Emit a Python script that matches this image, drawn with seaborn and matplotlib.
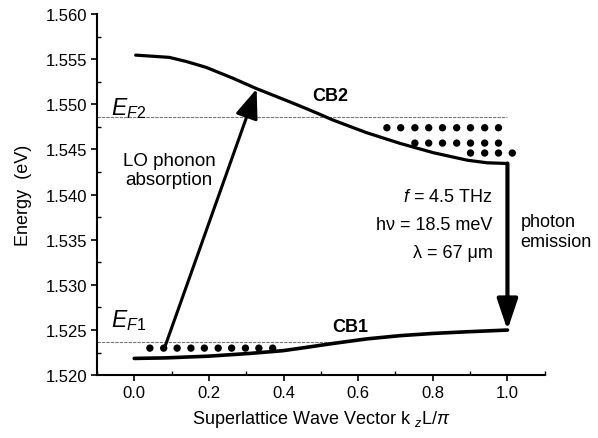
import matplotlib
matplotlib.use("Agg")
import matplotlib.pyplot as plt
import seaborn as sns
import pandas as pd
from matplotlib.patches import FancyArrowPatch
from matplotlib.ticker import MultipleLocator

# ---- data ----
cb2_k = [0.004, 0.094, 0.139, 0.193, 0.264, 0.327, 0.399, 0.444, 0.497, 0.532,
         0.622, 0.712, 0.802, 0.892, 0.945, 1.0]
cb2_e = [1.55544, 1.55519, 1.55474, 1.55408, 1.55289, 1.55174, 1.55056, 1.54981,
         1.54889, 1.54826, 1.54686, 1.54567, 1.54463, 1.54381, 1.54352, 1.54344]
cb1_k = [0.0, 0.085, 0.199, 0.309, 0.399, 0.444, 0.533, 0.623, 0.712, 0.802, 0.892, 1.0]
cb1_e = [1.52186, 1.52192, 1.52211, 1.52241, 1.52272, 1.52298, 1.52352, 1.52402,
         1.52438, 1.52463, 1.52481, 1.52500]

ef2_level = 1.5486
ef2_span = [-0.1, 1.0]
ef1_level = 1.5237
ef1_span = [-0.1, 0.53]

dots2_row1_k = [0.677, 0.714, 0.752, 0.789, 0.826, 0.864, 0.901, 0.939, 0.976]
dots2_row2_k = [0.752, 0.789, 0.826, 0.864, 0.901, 0.939, 0.976]
dots2_row3_k = [0.901, 0.939, 0.976, 1.013]
dots2_rows_e = [1.5474, 1.5457, 1.5446]
dots1_k = [0.042, 0.079, 0.115, 0.152, 0.188, 0.225, 0.261, 0.298, 0.334, 0.371]
dots1_e = 1.5230

absorb_start = (0.081, 1.5230)
absorb_end = (0.328, 1.5517)
emit_start = (1.0, 1.54344)
emit_end = (1.0, 1.5250)

xlim = (-0.1, 1.1)
ylim = (1.520, 1.560)
xticks = [0.0, 0.2, 0.4, 0.6, 0.8, 1.0]
yticks = [1.520, 1.525, 1.530, 1.535, 1.540, 1.545, 1.550, 1.555, 1.560]

# ---- style ----
sns.set_theme(style="ticks")
plt.rcParams["font.family"] = ["Liberation Sans", "DejaVu Sans"]
plt.rcParams["mathtext.fontset"] = "custom"
plt.rcParams["mathtext.rm"] = "Liberation Sans"
plt.rcParams["mathtext.it"] = "Liberation Sans:italic"
plt.rcParams["mathtext.bf"] = "Liberation Sans:bold"
plt.rcParams["text.color"] = "black"
plt.rcParams["axes.labelcolor"] = "black"
plt.rcParams["xtick.color"] = "black"
plt.rcParams["ytick.color"] = "black"

fig = plt.figure(figsize=(5.98, 4.39), dpi=100)
ax = fig.add_axes([0.162, 0.143, 0.749, 0.823])

cb2 = pd.DataFrame({"k": cb2_k, "E": cb2_e})
cb1 = pd.DataFrame({"k": cb1_k, "E": cb1_e})
sns.lineplot(data=cb2, x="k", y="E", ax=ax, color="black", lw=2.3)
sns.lineplot(data=cb1, x="k", y="E", ax=ax, color="black", lw=2.6)

ax.plot(ef2_span, [ef2_level] * 2, color="#777777", lw=0.8, ls=(0, (3, 1)), zorder=1)
ax.plot(ef1_span, [ef1_level] * 2, color="#777777", lw=0.8, ls=(0, (3, 1)), zorder=1)

dk = dots2_row1_k + dots2_row2_k + dots2_row3_k + dots1_k
de = ([dots2_rows_e[0]] * len(dots2_row1_k) + [dots2_rows_e[1]] * len(dots2_row2_k)
      + [dots2_rows_e[2]] * len(dots2_row3_k) + [dots1_e] * len(dots1_k))
sns.scatterplot(x=dk, y=de, ax=ax, color="black", s=28, edgecolor="none", zorder=3)

ax.add_patch(FancyArrowPatch(absorb_start, absorb_end,
                             arrowstyle="-|>,head_length=0.9,head_width=0.35",
                             mutation_scale=20, color="black", lw=2.2,
                             shrinkA=0, shrinkB=0, zorder=4))
ax.add_patch(FancyArrowPatch(emit_start, emit_end,
                             arrowstyle="-|>,head_length=1.25,head_width=0.42",
                             mutation_scale=15, color="black", lw=3.0,
                             shrinkA=0, shrinkB=0, zorder=4))

ax.set_xlim(*xlim)
ax.set_ylim(*ylim)
ax.set_xticks(xticks)
ax.set_yticks(yticks)
ax.set_xticklabels([f"{v:.1f}" for v in xticks])
ax.set_yticklabels([f"{v:.3f}" for v in yticks])
ax.xaxis.set_minor_locator(MultipleLocator(0.1))
ax.yaxis.set_minor_locator(MultipleLocator(0.0025))
ax.tick_params(which="major", direction="out", length=4, width=1.2, labelsize=12, colors="black", pad=3)
ax.tick_params(which="minor", direction="in", length=3, width=1.0, colors="black")
for s in ["top", "right"]:
    ax.spines[s].set_visible(False)
for s in ["left", "bottom"]:
    ax.spines[s].set_linewidth(1.5)
    ax.spines[s].set_color("black")

ax.set_ylabel("Energy  (eV)", fontsize=13, labelpad=10)
ax.set_xlabel(r"Superlattice Wave Vector k $_{z}$L/$\pi$", fontsize=13, labelpad=6)

ax.text(-0.062, 1.5489, r"$E_{\mathit{F2}}$", fontsize=16.5, ha="left", va="baseline")
ax.text(-0.062, 1.52544, r"$E_{\mathit{F1}}$", fontsize=16.5, ha="left", va="baseline")
ax.text(0.524, 1.5510, "CB2", fontsize=13, fontweight="bold", ha="center", va="center")
ax.text(0.58, 1.52544, "CB1", fontsize=13, fontweight="bold", ha="center", va="center")
ax.text(0.094, 1.54267, "LO phonon\nabsorption", fontsize=13.5, ha="center", va="center",
        linespacing=1.15)
ax.text(0.960, 1.53978, r"$f$ = 4.5 THz", fontsize=13, ha="right", va="center")
ax.text(0.960, 1.53667, "hν = 18.5 meV", fontsize=13, ha="right", va="center")
ax.text(0.960, 1.53356, "λ = 67 μm", fontsize=13, ha="right", va="center")
ax.text(1.035, 1.53590, "photon\nemission", fontsize=13, ha="left", va="center",
        linespacing=1.2)

fig.savefig("out.png", dpi=100)
